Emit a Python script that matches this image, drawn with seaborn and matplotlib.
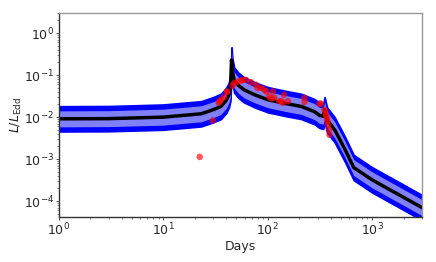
import numpy as np
import pandas as pd
import seaborn as sns
import matplotlib
matplotlib.use("Agg")
import matplotlib.pyplot as plt

# model light curve
model_days = [1, 3, 10, 23, 30, 35.6, 40, 42.5, 44, 45, 46, 47.6, 52, 59, 75,
              100, 150, 209, 280, 313, 340, 350, 370, 437, 549, 665, 1000, 3000]
model_lum = [0.0091, 0.0092, 0.0100, 0.012, 0.015, 0.018, 0.025, 0.034, 0.05,
             0.23, 0.12, 0.077, 0.058, 0.045, 0.034, 0.026, 0.021, 0.018,
             0.0135, 0.011, 0.0105, 0.015, 0.0085, 0.005, 0.0017, 0.00063,
             0.00032, 0.00007]

# observed points
obs_days = [22.3, 29.8, 34, 34.7, 35.6, 38.2, 40.5, 41, 46, 47.7, 51.5, 55.6,
            57.5, 62, 69, 77, 80, 86.5, 92.5, 96.5, 103, 108, 112, 115, 129,
            134, 140, 143, 156, 225, 225, 313, 322, 350, 355, 362, 368, 372,
            378, 385, 390]
obs_lum = [0.00113, 0.0083, 0.022, 0.024, 0.026, 0.030, 0.040, 0.041, 0.056,
           0.065, 0.070, 0.074, 0.077, 0.077, 0.068, 0.059, 0.049, 0.050,
           0.045, 0.041, 0.031, 0.028, 0.041, 0.029, 0.024, 0.024, 0.022,
           0.034, 0.024, 0.029, 0.023, 0.021, 0.021, 0.015, 0.013, 0.011,
           0.0095, 0.008, 0.0065, 0.005, 0.0038]

inner_fac = 1.55
outer_fac = 2.0

sns.set_style("ticks")
plt.rcParams["font.family"] = ["DejaVu Sans"]
plt.rcParams["mathtext.fontset"] = "dejavusans"

fig = plt.figure(figsize=(4.36, 2.62), dpi=100)
ax = fig.add_axes([0.135, 0.172, 0.833, 0.778])

d = np.array(model_days)
l = np.array(model_lum)
ax.fill_between(d, l / outer_fac, l * outer_fac, color="#0000ff", lw=1.2,
                edgecolor="#0000ff")
ax.fill_between(d, l / inner_fac, l * inner_fac, color="#8080f8", lw=0)
sns.lineplot(x=model_days, y=model_lum, color="black", lw=2.5, sort=False,
             estimator=None, ax=ax)
sns.scatterplot(x=obs_days, y=obs_lum, color="red", alpha=0.65, s=22,
                edgecolor="none", ax=ax, zorder=5)

ax.set(xscale="log", yscale="log")
ax.set_xlim(1, 3000)
ax.set_ylim(4.2e-5, 3)
ax.set_xlabel("Days", fontsize=9, labelpad=1)
ax.set_ylabel(r"$L/L_{\rm Edd}$", fontsize=9, labelpad=0)
ax.tick_params(labelsize=9, length=2.5, width=0.7, pad=1, color="#555555")
ax.tick_params(which="minor", length=1.5, width=0.5, color="#555555")
for s in ["top", "right"]:
    ax.spines[s].set_color("#999999")
for s in ["left", "bottom"]:
    ax.spines[s].set_color("#333333")
for s in ax.spines.values():
    s.set_linewidth(1.0)

fig.savefig("out.png", dpi=100)
